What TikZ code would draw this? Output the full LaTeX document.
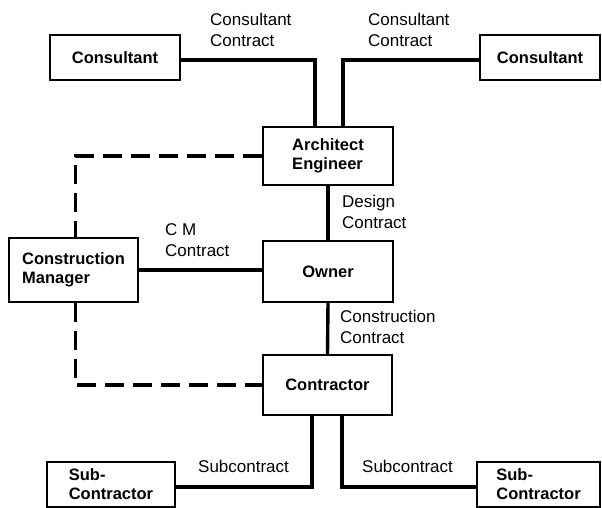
\documentclass[tikz,border=0pt]{standalone}
\usepackage{fontspec}
\setmainfont{Liberation Sans}
\usetikzlibrary{calc}
\begin{document}
\begin{tikzpicture}[x=1pt,y=-1pt,
  box/.style={draw, line width=1.8pt, inner sep=0pt, align=left,
    font=\fontsize{16.5}{19}\selectfont\bfseries},
  conn/.style={line width=3.4pt},
  dconn/.style={line width=3.4pt, dash pattern=on 19pt off 9pt},
  lbl/.style={inner sep=0pt, align=left, anchor=base west,
    font=\fontsize{17}{21}\selectfont}]
\useasboundingbox (0,0) rectangle (602,508);
% boxes
\node[box, minimum width=130pt, minimum height=45pt] (c1) at (115,57.5) {Consultant};
\node[box, minimum width=120pt, minimum height=45pt] (c2) at (540,57.5) {Consultant};
\node[box, minimum width=130pt, minimum height=58pt] (ae) at (328,156) {Architect\\Engineer};
\node[box, minimum width=130pt, minimum height=61pt] (own) at (328,271.5) {Owner};
\node[box, minimum width=129pt, minimum height=64pt] (cm) at (73.5,270) {Construction\\Manager};
\node[box, minimum width=129pt, minimum height=60pt] (con) at (327.5,385) {Contractor};
\node[box, minimum width=128pt, minimum height=45pt] (s1) at (111,484.5) {Sub-\\Contractor};
\node[box, minimum width=123pt, minimum height=45pt] (s2) at (538.5,484.5) {Sub-\\Contractor};
% connectors
\draw[conn] ([yshift=-2.5pt]c1.east) -| ([xshift=-13pt]ae.north);
\draw[conn] ([yshift=-2.5pt]c2.west) -| ([xshift=15pt]ae.north);
\draw[conn] (ae.south) -- (own.north);
\draw[conn] (cm.east) -- (cm.east -| own.west);
\draw[conn] (own.south) -- (con.north);
\draw[conn] ([xshift=-15.5pt]con.south) |- ([yshift=-2.5pt]s1.east);
\draw[conn] ([xshift=14.5pt]con.south) |- ([yshift=-2.5pt]s2.west);
\draw[dconn] (ae.west) -| ([xshift=2pt]cm.north);
\draw[dconn] ([xshift=2pt]cm.south) |- (con.west);
% labels (anchor = baseline of last line)
\node[lbl] (l1) at (210,47) {Consultant\\Contract};
\node[lbl] (l2) at (368,47) {Consultant\\Contract};
\node[lbl] (l3) at (342,228) {Design\\Contract};
\node[lbl] (l4) at (165,256) {C M\\Contract};
\node[lbl] (l5) at (340,343) {Construction\\Contract};
\node[lbl] (l6) at (198,472) {Subcontract};
\node[lbl] (l7) at (362,472) {Subcontract};
\end{tikzpicture}
\end{document}
